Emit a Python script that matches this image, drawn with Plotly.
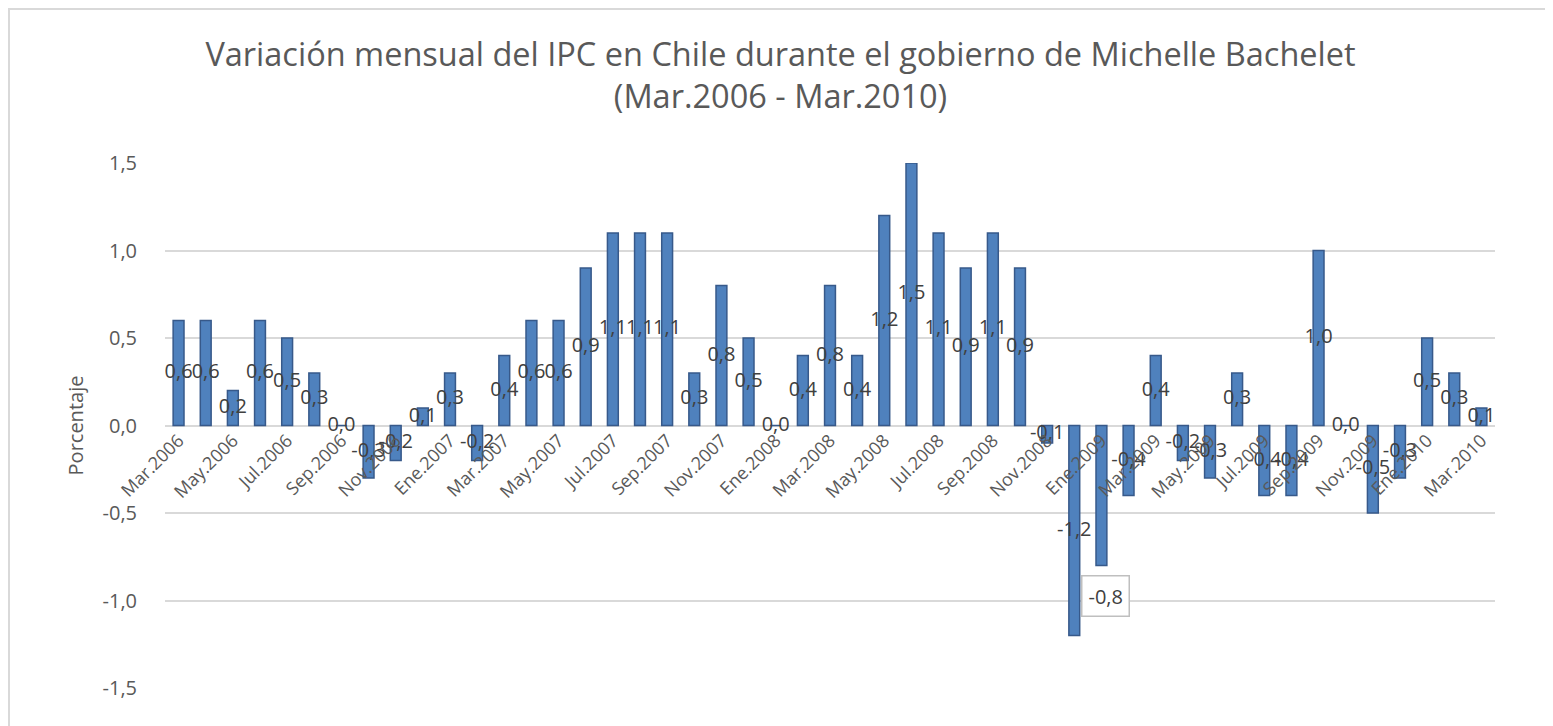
import plotly.graph_objects as go

meses = ["Mar", "Abr", "May", "Jun", "Jul", "Ago", "Sep", "Oct", "Nov", "Dic", "Ene", "Feb"]
categorias = []
anio = 2006
for i in range(49):
    m = meses[i % 12]
    if m == "Ene":
        anio += 1
    categorias.append(f"{m}.{anio}")

valores = [0.6, 0.6, 0.2, 0.6, 0.5, 0.3, 0.0, -0.3, -0.2, 0.1,
           0.3, -0.2, 0.4, 0.6, 0.6, 0.9, 1.1, 1.1, 1.1, 0.3, 0.8, 0.5,
           0.0, 0.4, 0.8, 0.4, 1.2, 1.5, 1.1, 0.9, 1.1, 0.9, -0.1, -1.2,
           -0.8, -0.4, 0.4, -0.2, -0.3, 0.3, -0.4, -0.4, 1.0, 0.0, -0.5, -0.3,
           0.5, 0.3, 0.1]

y_ticks = [-1.5, -1.0, -0.5, 0.0, 0.5, 1.0, 1.5]
y_ticktext = [f"{v:.1f}".replace(".", ",") for v in y_ticks]
titulo = "Variación mensual del IPC en Chile durante el gobierno de Michelle Bachelet<br>(Mar.2006 - Mar.2010)"
caja_idx = categorias.index("Ene.2009")

FONT = "Open Sans"
etiquetas = [f"{v:.1f}".replace(".", ",") for v in valores]

fig = go.Figure()
fig.add_trace(go.Bar(
    x=categorias, y=valores,
    marker=dict(color="#4F81BD", line=dict(color="#37598A", width=1.5)),
    hoverinfo="x+y",
))
# data labels at the centre of each bar
lx = [c for i, c in enumerate(categorias) if i != caja_idx]
ly = [v / 2 for i, v in enumerate(valores) if i != caja_idx]
lt = [t for i, t in enumerate(etiquetas) if i != caja_idx]
fig.add_trace(go.Scatter(
    x=lx, y=ly, mode="text", text=lt,
    textfont=dict(family=FONT, size=20, color="#404040"),
    hoverinfo="skip", showlegend=False,
))
fig.add_annotation(
    x=categorias[caja_idx], y=valores[caja_idx], text=etiquetas[caja_idx],
    showarrow=False, xshift=4, yshift=-30,
    font=dict(family=FONT, size=20, color="#404040"),
    bordercolor="#BFBFBF", borderwidth=1.5, borderpad=6, bgcolor="white",
)

fig.update_layout(
    width=1545, height=718,
    paper_bgcolor="white", plot_bgcolor="white",
    separators=",.",
    showlegend=False,
    bargap=0.6,
    margin=dict(l=157, r=58, t=155, b=38, autoexpand=False),
    title=dict(text=titulo, x=0.5, xanchor="center", yref="container",
               y=0.919, yanchor="middle",
               font=dict(family=FONT, size=32.5, color="#595959")),
    font=dict(family=FONT, color="#595959"),
    xaxis=dict(
        type="category", anchor="free", position=0.5, automargin=False,
        range=[-0.5, len(categorias) - 0.5],
        tickmode="array", tickvals=categorias[::2], ticktext=categorias[::2],
        tickangle=-45, tickfont=dict(family=FONT, size=18, color="#595959"),
        showgrid=False, showline=False, ticks="", zeroline=False,
    ),
    yaxis=dict(
        range=[-1.5, 1.5], tickvals=y_ticks, ticktext=y_ticktext,
        automargin=False, ticklabelstandoff=27,
        tickfont=dict(family=FONT, size=20, color="#595959"),
        showgrid=True, gridcolor="#D9D9D9", gridwidth=2,
        zeroline=True, zerolinecolor="#D9D9D9", zerolinewidth=2,
        showline=False, ticks="", ticklen=0,
        title=dict(text="Porcentaje", font=dict(family=FONT, size=20, color="#595959"), standoff=13),
    ),
    shapes=[dict(type="rect", xref="paper", yref="paper",
                 x0=-0.1173, x1=1.0414, y0=-0.08, y1=1.2933, layer="below",
                 line=dict(color="#D9D9D9", width=2))],
)

fig.write_html("out.html")
